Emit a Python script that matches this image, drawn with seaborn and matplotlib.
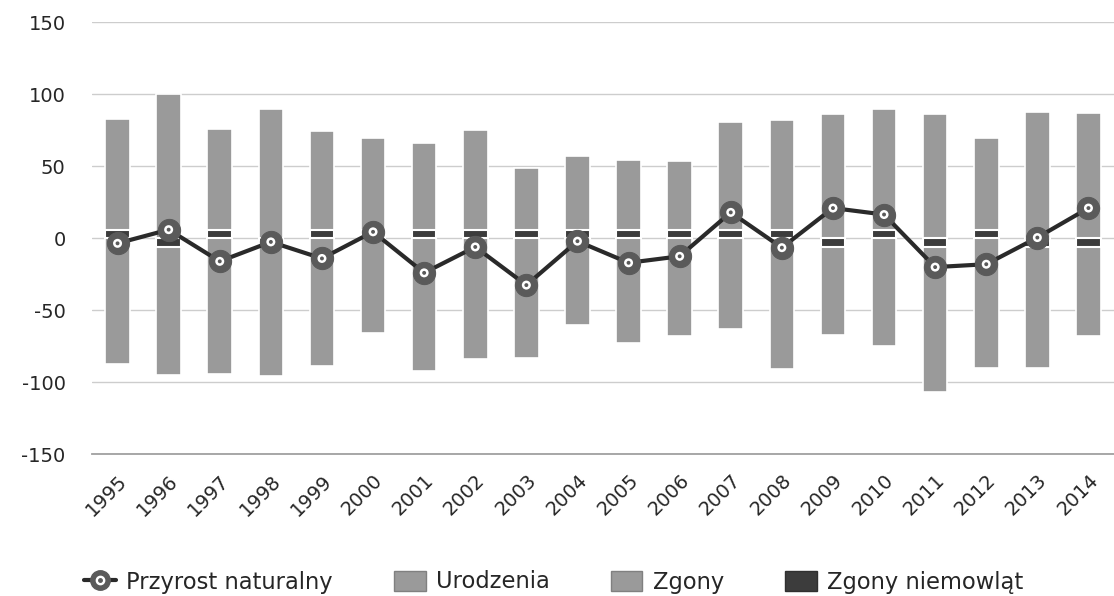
import numpy as np
import pandas as pd
import matplotlib
matplotlib.use("Agg")
import matplotlib.pyplot as plt
import seaborn as sns
from matplotlib.lines import Line2D
from matplotlib.patches import Patch
from matplotlib.legend_handler import HandlerTuple

# ---------------- data ----------------
years = [str(y) for y in range(1995, 2015)]
# births segment (stacked above the positive infant-death segment)
urodzenia = [77, 100, 70, 90, 68.5, 64, 60, 69, 43, 51, 48.5, 48, 75, 76, 86, 84, 86, 64, 88, 87]
# deaths segment (stacked below the negative infant-death segment)
zgony = [-87, -89, -94, -89.5, -89, -66, -92, -84, -83, -60, -73, -68, -63, -91, -61, -75, -100.5, -90, -84, -61.5]
# infant deaths
zgony_niemowlat = [6, -6, 6, -6, 6, 6, 6, 6, 6, 6, 6, 6, 6, 6, -6, 6, -6, 6, -6, -6]
# natural increase
przyrost = [-3.5, 6, -16, -2.5, -14, 4.5, -24, -6, -32.5, -2, -17, -12.5, 18, -6.5, 21, 16.5, -20, -18, 0.5, 21]

yticks = [-150, -100, -50, 0, 50, 100, 150]
legend_labels = ["Przyrost naturalny", "Urodzenia", "Zgony", "Zgony niemowląt"]

# ---------------- styling ----------------
sns.set_theme(style="white")
plt.rcParams['font.family'] = ['DejaVu Sans']

BAR = "#9a9a9a"
DARK = "#3c3c3c"
LINE = "#2a2a2a"
MARK = "#5a5a5a"
TXT = "#262626"

df = pd.DataFrame({"rok": years, "urodzenia": urodzenia, "zgony": zgony,
                   "niem": zgony_niemowlat, "przyrost": przyrost})
df["pos_base"] = df["niem"].clip(lower=0)
df["neg_base"] = df["niem"].clip(upper=0)

fig = plt.figure(figsize=(11.14, 5.96), dpi=100)
W, H = 1114, 596
left, right, top, bottom = 92, 1114, 22.3, 454.3
ax = fig.add_axes([left / W, 1 - bottom / H, (right - left) / W, (bottom - top) / H])

bw = 0.48
sns.barplot(data=df, x="rok", y="urodzenia", bottom=df["pos_base"].values, color=BAR,
            saturation=1, width=bw, edgecolor="white", linewidth=1.2, ax=ax, zorder=2)
sns.barplot(data=df, x="rok", y="zgony", bottom=df["neg_base"].values, color=BAR,
            saturation=1, width=bw, edgecolor="white", linewidth=1.2, ax=ax, zorder=2)
sns.barplot(data=df, x="rok", y="niem", color=DARK, saturation=1, width=bw,
            edgecolor="white", linewidth=1.5, ax=ax, zorder=2)

sns.lineplot(data=df, x="rok", y="przyrost", sort=False, color=LINE, lw=3,
             marker="o", markersize=16, markerfacecolor=MARK, markeredgecolor=MARK,
             ax=ax, zorder=4)
sns.scatterplot(data=df, x="rok", y="przyrost", s=42, color="white", edgecolor="none",
                ax=ax, zorder=5)
sns.scatterplot(data=df, x="rok", y="przyrost", s=8, color=MARK, edgecolor="none",
                ax=ax, zorder=6)

ax.set_xlim(-0.5, len(years) - 0.5)
ax.set_ylim(-150, 150)
ax.set_yticks(yticks)
ax.set_yticklabels([str(v) for v in yticks])
ax.set_xlabel("")
ax.set_ylabel("")

ax.yaxis.grid(True, color="#cdcdcd", lw=1.0, zorder=0)
ax.xaxis.grid(False)
ax.set_axisbelow(True)
for s in ["left", "right", "top"]:
    ax.spines[s].set_visible(False)
ax.spines["bottom"].set_color("#a0a0a0")
ax.spines["bottom"].set_linewidth(1.3)

ax.set_xticks(range(len(years)))
ax.set_xticklabels(years, rotation=45, ha="right", rotation_mode="anchor")
ax.set_xticks(np.arange(-0.5, len(years), 1.0), minor=True)
ax.tick_params(axis="x", which="major", length=0, pad=12, labelsize=14, labelcolor=TXT)
ax.tick_params(axis="x", which="minor", length=8, width=1.3, color="#a0a0a0", direction="out")
ax.tick_params(axis="y", length=0, pad=19, labelsize=14, labelcolor=TXT)

# ---------------- legend ----------------
h_line = Line2D([0], [0], color=LINE, lw=3, marker="o", markersize=14,
                markerfacecolor=MARK, markeredgecolor=MARK)
h_white = Line2D([0], [0], ls="none", marker="o", markersize=6, markerfacecolor="white",
                 markeredgecolor="white")
h_dot = Line2D([0], [0], ls="none", marker="o", markersize=2.5, markerfacecolor=MARK,
               markeredgecolor=MARK)
handles = [(h_line, h_white, h_dot),
           Patch(facecolor=BAR, edgecolor="#808080"),
           Patch(facecolor=BAR, edgecolor="#808080"),
           Patch(facecolor=DARK, edgecolor="#303030")]
fig.legend(handles, legend_labels, loc="center", bbox_to_anchor=(0.497, 1 - 582 / H), ncol=4,
           frameon=False, fontsize=16.3, handlelength=1.4, handleheight=1.0,
           handletextpad=0.45, columnspacing=2.7,
           handler_map={tuple: HandlerTuple(ndivide=1, pad=0)},
           labelcolor=TXT, borderpad=0, borderaxespad=0)

fig.savefig("out.png", dpi=100)
